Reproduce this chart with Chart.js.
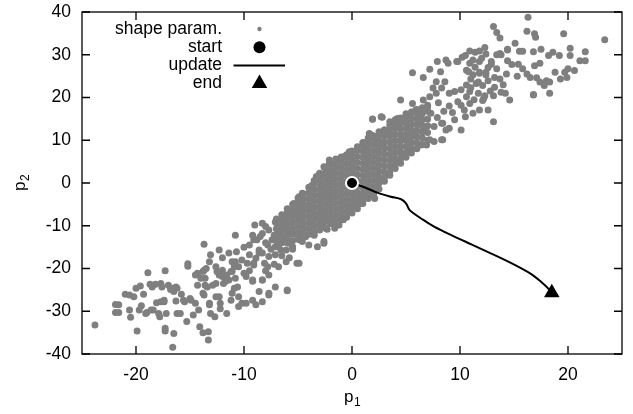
<!DOCTYPE html>
<html>
<head>
<meta charset="utf-8">
<script src="https://cdn.jsdelivr.net/npm/chart.js@4.4.0/dist/chart.umd.min.js"></script>
<style>
html,body{margin:0;padding:0;background:#fff;}
</style>
</head>
<body>
<canvas id="mycanvas" width="633" height="414"></canvas>
<script>
// axis ticks
var xTicks = [-20, -10, 0, 10, 20];
var yTicks = [-40, -30, -20, -10, 0, 10, 20, 30, 40];

// shape parameters
var tailLow = [
 [-23.8,-33.2],[-21.9,-28.4],[-21.9,-30.3],[-21.6,-28.5],[-21.6,-30.3],[-20.6,-29.7],[-20.5,-31.4],
 [-21.0,-26.0],[-20.6,-26.2],[-20.2,-26.6],[-20.0,-24.6],[-19.6,-24.1],[-19.3,-26.0],[-19.9,-34.6],
 [-18.9,-21.0],[-19.5,-28.7],[-19.7,-29.7],[-19.0,-30.3],[-18.6,-29.7],[-18.7,-23.7],[-18.2,-23.7],
 [-17.7,-23.5],[-17.3,-20.5],[-17.6,-24.3],[-16.8,-24.9],[-16.3,-24.3],[-16.5,-25.4],[-18.1,-28.0],
 [-17.7,-27.8],[-17.4,-27.8],[-17.9,-30.5],[-17.8,-31.3],[-17.2,-30.5],[-17.3,-34.0],[-17.3,-34.6],
 [-16.5,-35.2],[-16.6,-38.4],[-16.3,-27.6],[-16.2,-30.5],[-15.9,-30.5],[-15.8,-26.0],[-15.5,-27.8],
 [-15.3,-32.4],[-15.2,-18.9],[-15.2,-19.5],[-14.9,-27.4],[-14.7,-30.9],[-14.5,-28.1],[-14.3,-21.1],
 [-14.2,-29.7],[-14.1,-33.6],[-14.3,-23.9],[-14.0,-22.3],[-13.8,-25.8],[-13.5,-20.0],[-13.4,-24.3],
 [-13.3,-36.7],[-13.2,-28.1],[-13.3,-34.8],[-19.1,-30.5],[-18.4,-29.7],[-18.5,-24.3],[-17.0,-23.9],
 [-16.7,-24.6],[-16.2,-24.6],[-17.4,-27.4],[-15.6,-27.4],[-15.0,-27.0],[-14.5,-21.5],[-13.8,-35.0]
];

var midLow = [
 [-13.7,-14.3],[-13.1,-16.8],[-12.3,-15.7],[-13.2,-18.4],[-13.8,-20.7],[-13.6,-22.3],[-12.9,-23.9],
 [-12.6,-26.6],[-13.1,-30.5],[-12.7,-31.3],[-12.2,-28.1],[-12.2,-29.4],[-11.6,-30.5],[-12.6,-19.6],
 [-12.5,-20.7],[-12.0,-21.9],[-11.9,-23.5],[-11.6,-21.5],[-11.4,-22.7],[-11.1,-20.7],[-10.9,-19.6],
 [-10.8,-18.4],[-11.4,-16.4],[-10.7,-16.1],[-10.8,-12.2],[-11.1,-25.8],[-10.6,-24.3],[-10.5,-26.6],
 [-10.5,-28.9],[-9.8,-28.1],[-10.2,-18.0],[-9.7,-18.8],[-10.0,-21.1],[-9.1,-19.2],[-9.2,-22.7],
 [-9.2,-27.4],[-8.9,-28.5],[-8.3,-27.8],[-8.6,-25.4],[-8.3,-22.7],[-7.8,-19.6],[-7.7,-25.8],
 [-7.1,-24.3],[-8.9,-17.6],[-8.6,-15.7],[-8.3,-16.4],[-9.1,-13.3],[-9.2,-12.2],[-9.0,-9.8],
 [-8.3,-11.8],[-8.0,-10.2],[-7.8,-14.5],[-7.4,-13.3],[-7.1,-14.9],[-7.1,-9.1],[-6.8,-11.8],
 [-6.6,-15.7],[-6.1,-18.4],[-6.0,-25.0],[-6.4,-10.2],[-5.8,-14.1],[-6.1,-8.7],[-5.5,-11.8],
 [-5.1,-18.8],[-5.2,-7.1],[-4.9,-13.3],[-4.6,-10.2],[-4.3,-12.6],[-3.7,-11.8],[-3.2,-14.9],
 [-8.3,-9.4],[-8.8,-13.3],[-7.7,-11.0],[-6.8,-11.4],[-4.6,-11.8],[-3.5,-12.2],[-4.9,-18.8],
 [-6.8,-14.9],[-7.1,-16.8],[-6.1,-15.7],[-7.7,-17.2],[-8.6,-16.4],[-9.1,-18.8],[-8.1,-18.8],
 [-7.7,-21.5],[-8.3,-22.7],[-9.2,-23.0],[-6.0,-25.2],[-7.7,-26.2],[-10.2,-28.1],[-12.0,-17.5],
 [-11.1,-18.4],[-10.5,-19.6],[-11.2,-20.7],[-12.0,-20.4],[-12.3,-21.5],[-10.8,-22.3],[-11.7,-23.0],
 [-12.6,-23.5],[-9.8,-21.9],[-10.9,-24.6],[-13.7,-20.4],[-13.6,-23.9],[-13.7,-26.2],[-12.3,-26.6],
 [-13.2,-28.5],[-11.2,-27.4],[-6.8,-19.6],[-5.8,-17.5],[-9.5,-14.5],[-8.0,-14.0],[-7.5,-15.5],
 [-6.5,-13.0],[-9.5,-16.8],[-10.0,-15.0],[-8.5,-12.5],[-7.2,-12.2],[-6.0,-12.5],[-5.5,-15.5],
 [-6.5,-17.0],[-8.0,-20.5],[-7.2,-19.0],[-9.5,-20.5],[-2.6,-14.1],[-2.3,-10.8],[-1.9,-9.4],
 [-2.7,-9.8],[-0.3,-6.7],[0.8,-4.8],[0.5,-4.8],[1.1,-3.2],[2.1,-3.6],[-0.25,-6.3],[-1.2,-9.8],
 [-0.8,-8.6],[-2.6,-13.7],[-1.6,-10.6],[-4.6,-13.7],[-5.5,-14.9],[-4.0,-14.5]
];

// dense centre, one column of p2 values per p1
var coreColumns = [
 [-7.0, [-13.5,-12.1,-10.7,-9.3,-8.4]],
 [-6.5, [-14.0,-12.8,-11.4,-10.0,-8.6,-7.4]],
 [-6.0, [-14.0,-12.6,-11.2,-9.8,-8.4,-7.0,-6.0]],
 [-5.5, [-13.5,-12.0,-10.6,-9.2,-7.8,-6.4,-5.0]],
 [-5.0, [-13.0,-11.6,-10.2,-8.8,-7.4,-6.0,-4.6,-3.5]],
 [-4.5, [-12.5,-11.0,-9.6,-8.2,-6.8,-5.4,-4.0,-2.6]],
 [-4.0, [-12.0,-10.6,-9.2,-7.8,-6.4,-5.0,-3.6,-2.2,-1.0]],
 [-3.5, [-11.5,-10.0,-8.6,-7.2,-5.8,-4.4,-3.0,-1.6,-0.2,0.6]],
 [-3.0, [-11.0,-9.6,-8.2,-6.8,-5.4,-4.0,-2.6,-1.2,0.2,1.6,2.1]],
 [-2.5, [-10.5,-9.0,-7.6,-6.2,-4.8,-3.4,-2.0,-0.6,0.8,2.2,3.5]],
 [-2.0, [-9.5,-8.2,-6.8,-5.4,-4.0,-2.6,-1.2,0.2,1.6,3.0,4.4]],
 [-1.5, [-9.0,-7.6,-6.2,-4.8,-3.4,-2.0,-0.6,0.8,2.2,3.6,5.0,5.6]],
 [-1.0, [-8.5,-7.2,-5.8,-4.4,-3.0,-1.6,-0.2,1.2,2.6,4.0,5.4,6.1]],
 [-0.5, [-8.0,-6.6,-5.2,-3.8,-2.4,-1.0,0.4,1.8,3.2,4.6,6.0,6.6]],
 [0.0, [-7.0,-5.8,-4.4,-3.0,-1.6,-0.2,1.2,2.6,4.0,5.4,6.8,7.5]],
 [0.5, [-6.0,-5.0,-3.6,-2.2,-0.8,0.6,2.0,3.4,4.8,6.2,7.6,8.5]],
 [1.0, [-4.8,-3.8,-2.4,-1.0,0.4,1.8,3.2,4.6,6.0,7.4,8.8,9.5]],
 [1.5, [-3.6,-3.0,-1.6,-0.2,1.2,2.6,4.0,5.4,6.8,8.2,9.6,10.5]],
 [2.0, [-2.8,-2.2,-0.8,0.6,2.0,3.4,4.8,6.2,7.6,9.0,10.4,11.0]],
 [2.5, [-1.4,0.0,1.4,2.8,4.2,5.6,7.0,8.4,9.8,11.2,12.0]],
 [3.0, [0.4,1.2,2.6,4.0,5.4,6.8,8.2,9.6,11.0,12.4]],
 [3.5, [1.8,2.6,4.0,5.4,6.8,8.2,9.6,11.0,12.4,13.5]],
 [4.0, [3.4,4.4,5.8,7.2,8.6,10.0,11.4,12.8,14.2,14.8]],
 [4.5, [4.6,5.6,7.0,8.4,9.8,11.2,12.6,14.0,15.2]],
 [5.0, [6.0,7.2,8.6,10.0,11.4,12.8,14.2,15.6,16.2]],
 [5.5, [7.0,8.2,9.6,11.0,12.4,13.8,15.2,16.6]],
 [6.0, [8.0,9.4,10.8,12.2,13.6,15.0,16.4,17.2]],
 [6.5, [9.0,10.6,12.0,13.4,14.8,16.2,17.6]],
 [7.0, [10.0,11.8,13.4,15.0,16.8,18.2]]
];

var midHigh = [
 [-3.3,1.5],[-4.9,-3.2],[-4.6,-2.4],[-3.0,2.3],[-2.1,5.4],[-0.25,7.3],[1.6,11.6],[-0.7,6.2],
 [-2.1,4.6],[-2.6,3.8],[-3.7,-0.5],[1.4,9.7],[2.2,9.3],[1.8,11.2],[1.9,15.0],[2.7,15.5],[3.5,14.3],
 [4.2,15.1],[3.2,12.0],[2.5,0.3],[1.8,-2.4],[0.8,-3.2],[-5.4,-4.8],[-4.9,-5.6],[-4.0,-6.3],[-3.3,-7.9],
 [5.6,25.8],[6.6,24.7],[7.2,26.6],[8.2,26.0],[7.9,28.4],[8.9,28.0],[9.8,28.4],[10.9,28.0],[11.8,28.4],
 [10.6,26.4],[11.2,25.3],[11.8,25.7],[12.4,25.3],[7.8,23.7],[8.6,23.7],[7.5,22.2],[8.3,22.2],
 [9.5,21.4],[10.1,21.8],[10.6,22.9],[10.9,21.4],[11.5,23.3],[11.7,21.0],[10.6,20.2],[10.1,18.2],
 [10.4,17.1],[10.9,18.6],[11.8,17.1],[12.6,17.1],[11.2,16.3],[10.1,12.4],[8.3,14.0],[8.7,12.4],
 [8.3,10.1],[4.5,19.4],[1.9,14.9],[2.8,15.4],[3.0,12.4],[5.6,18.6],[6.6,19.4],[5.9,17.1],[7.2,20.2],
 [7.8,21.0],[9.0,21.0],[6.4,14.7],[7.3,16.3],[5.2,14.0],[4.1,13.2],[3.5,12.0],[4.7,10.8],[5.6,11.6],
 [6.6,12.4],[7.2,10.1],[6.9,8.9],[7.6,13.2],[6.4,8.9],[2.8,8.5],[4.1,8.5],[5.3,8.5],[8.7,28.8],
 [9.7,28.4],[10.2,29.4],[13.1,14.3],[8.4,14.0],[7.6,9.7],[8.4,10.1],[4.1,5.4],[9.3,16.5],[9.8,19.0],
 [9.0,18.0],[8.5,16.8],[9.5,14.8],[10.5,15.5],[8.0,18.8],[7.0,17.8],[6.2,16.0],[7.9,15.3],[9.0,12.8],
 [11.3,19.5],[12.2,19.8]
];

var tailHigh = [
 [16.3,38.8],[13.1,36.6],[13.4,35.2],[13.7,33.9],[16.2,35.5],[16.9,34.9],[17.0,34.1],[19.6,34.9],
 [23.4,33.5],[15.1,32.7],[14.4,31.3],[12.3,31.7],[11.8,30.9],[15.5,30.8],[15.8,30.8],[16.8,30.7],
 [17.5,31.3],[18.2,29.8],[18.6,30.6],[19.2,29.8],[20.2,31.5],[20.2,29.8],[21.6,30.7],[21.6,28.6],
 [21.1,28.6],[13.4,30.0],[13.8,30.0],[14.4,28.6],[14.8,27.7],[15.4,27.8],[15.8,26.7],[16.2,25.5],
 [16.9,27.4],[17.4,28.0],[16.5,24.7],[17.1,24.6],[17.4,23.6],[18.0,23.9],[18.3,23.6],[18.8,25.9],
 [19.3,24.3],[19.7,25.9],[20.0,26.7],[20.6,26.3],[19.9,24.7],[16.8,20.7],[18.3,21.0],[14.6,19.4],
 [10.9,30.9],[11.4,30.6],[12.4,30.2],[11.4,27.1],[11.8,25.9],[11.0,24.3],[12.4,25.9],[12.9,27.8],
 [13.4,26.7],[13.2,24.7],[13.7,24.3],[12.6,23.9],[12.1,22.8],[11.7,23.6],[13.2,22.4],[13.8,21.2],
 [13.1,20.4],[12.3,20.4],[12.1,19.3],[11.2,28.8],[12.0,29.2],[10.5,29.8],[14.0,23.0],[14.3,25.5],
 [12.8,21.5],[10.8,26.0],[12.6,27.0],[11.0,22.3],[14.2,21.0],[15.3,25.0],[17.8,22.8],[12.9,28.4],
 [13.7,30.3],[14.4,31.1],[16.8,20.6]
];

// optimisation path
var updatePath = [
 [0,0],[1.14,-1.0],[2.4,-2.3],[3.6,-3.2],[4.55,-3.8],[5.0,-4.75],[5.3,-6.2],[5.6,-6.9],[6.4,-8.3],
 [7.6,-10.2],[9.2,-12.2],[11.0,-14.3],[12.9,-16.5],[14.8,-18.8],[16.6,-21.3],[17.5,-23.1],[18.3,-25.0],[18.5,-25.7]
];
var startPoint = [0, 0];
var endPoint = [18.5, -25.7];

var FONT = '"Liberation Sans", Arial, Helvetica, sans-serif';
var GRAY = '#7f7f7f';

function toXY(list) {
	return list.map(function(p){ return {x: p[0], y: p[1]}; });
}
var core = [];
coreColumns.forEach(function(c){
	c[1].forEach(function(v){ core.push([c[0], v]); });
});
var shapeParams = tailLow.concat(midLow, core, midHigh, tailHigh);

var framePlugin = {
	id: 'frame',
	afterDatasetsDraw: function(chart) {
		var ctx = chart.ctx, a = chart.chartArea;
		var xs = chart.scales.x, ys = chart.scales.y;
		ctx.save();
		ctx.strokeStyle = '#000';
		ctx.lineWidth = 1.3;
		ctx.strokeRect(a.left, a.top, a.right - a.left, a.bottom - a.top);
		ctx.beginPath();
		xTicks.forEach(function(v){
			var px = xs.getPixelForValue(v);
			ctx.moveTo(px, a.bottom); ctx.lineTo(px, a.bottom - 8);
			ctx.moveTo(px, a.top); ctx.lineTo(px, a.top + 8);
		});
		yTicks.forEach(function(v){
			var py = ys.getPixelForValue(v);
			ctx.moveTo(a.left, py); ctx.lineTo(a.left + 8, py);
			ctx.moveTo(a.right, py); ctx.lineTo(a.right - 8, py);
		});
		ctx.stroke();

		// axis titles p1 / p2
		ctx.fillStyle = '#000';
		ctx.textBaseline = 'alphabetic';
		ctx.textAlign = 'left';
		function title(sub, cx, cy) {
			ctx.font = '17px ' + FONT;
			var w1 = ctx.measureText('p').width;
			ctx.font = '12px ' + FONT;
			var w2 = ctx.measureText(sub).width;
			var x0 = cx - (w1 + w2) / 2;
			ctx.font = '17px ' + FONT;
			ctx.fillText('p', x0, cy);
			ctx.font = '12px ' + FONT;
			ctx.fillText(sub, x0 + w1 + 0.5, cy + 4);
		}
		title('1', (a.left + a.right) / 2, 402);
		ctx.translate(25, (a.top + a.bottom) / 2);
		ctx.rotate(-Math.PI / 2);
		title('2', 0, 0);
		ctx.restore();
	}
};

var keyPlugin = {
	id: 'key',
	afterDraw: function(chart) {
		var ctx = chart.ctx;
		var ds = chart.data.datasets;
		ctx.save();
		ctx.font = '17.5px ' + FONT;
		ctx.textAlign = 'right';
		ctx.textBaseline = 'middle';
		for (var i = 0; i < ds.length; i++) {
			var yy = 29 + i * 18.2;
			ctx.fillStyle = '#000';
			ctx.fillText(ds[i].label, 222, yy);
			var sx = 259.5;
			if (ds[i].key === 'dot') {
				ctx.fillStyle = GRAY;
				ctx.beginPath(); ctx.arc(sx, yy, 2.2, 0, Math.PI * 2); ctx.fill();
			} else if (ds[i].key === 'circle') {
				ctx.fillStyle = '#000';
				ctx.beginPath(); ctx.arc(sx, yy, 6, 0, Math.PI * 2); ctx.fill();
			} else if (ds[i].key === 'line') {
				ctx.strokeStyle = '#000';
				ctx.lineWidth = 2;
				ctx.beginPath(); ctx.moveTo(233.5, yy); ctx.lineTo(285, yy); ctx.stroke();
			} else {
				ctx.fillStyle = '#000';
				var r = 9;
				ctx.beginPath();
				ctx.moveTo(sx, yy - r);
				ctx.lineTo(sx + r * 0.866, yy + r / 2);
				ctx.lineTo(sx - r * 0.866, yy + r / 2);
				ctx.closePath(); ctx.fill();
			}
		}
		ctx.restore();
	}
};

var chartdata = {
	datasets: [
	{
		label: 'shape param.',
		key: 'dot',
		data: toXY(shapeParams),
		pointRadius: 3.5,
		pointBackgroundColor: GRAY,
		pointBorderWidth: 0,
		order: 4
	},
	{
		label: 'start',
		key: 'circle',
		data: toXY([startPoint]),
		pointRadius: 6,
		pointBackgroundColor: '#000',
		pointBorderColor: '#fff',
		pointBorderWidth: 2,
		order: 1
	},
	{
		label: 'update',
		key: 'line',
		data: toXY(updatePath),
		showLine: true,
		borderColor: '#000',
		borderWidth: 2,
		tension: 0.3,
		pointRadius: 0,
		order: 3
	},
	{
		label: 'end',
		key: 'tri',
		data: toXY([endPoint]),
		pointStyle: 'triangle',
		pointRadius: 9,
		pointBackgroundColor: '#000',
		pointBorderWidth: 0,
		order: 2
	}
	]
};

function noPad(s) {
	s.paddingTop = 0; s.paddingBottom = 0; s.paddingLeft = 0; s.paddingRight = 0;
}

var ctx = document.getElementById('mycanvas');
var chart = new Chart(ctx, {
	type: 'scatter',
	data: chartdata,
	options: {
		responsive: false,
		animation: false,
		devicePixelRatio: 1,
		layout: {padding: {left: 0, right: 11, top: 12, bottom: 0}},
		plugins: {legend: {display: false}, tooltip: {enabled: false}},
		scales: {
			x: {
				min: -25, max: 25,
				afterBuildTicks: function(s){ s.ticks = xTicks.map(function(v){ return {value: v}; }); },
				afterFit: function(s){ s.height = 60; noPad(s); },
				grid: {display: false, drawTicks: false},
				border: {display: false},
				ticks: {color: '#000', padding: 11, maxRotation: 0, font: {family: FONT, size: 17.5}}
			},
			y: {
				min: -40, max: 40,
				afterBuildTicks: function(s){ s.ticks = yTicks.map(function(v){ return {value: v}; }); },
				afterFit: function(s){ s.width = 82; noPad(s); },
				grid: {display: false, drawTicks: false},
				border: {display: false},
				ticks: {color: '#000', padding: 11, font: {family: FONT, size: 17.5}}
			}
		}
	},
	plugins: [framePlugin, keyPlugin]
});
</script>
</body>
</html>
